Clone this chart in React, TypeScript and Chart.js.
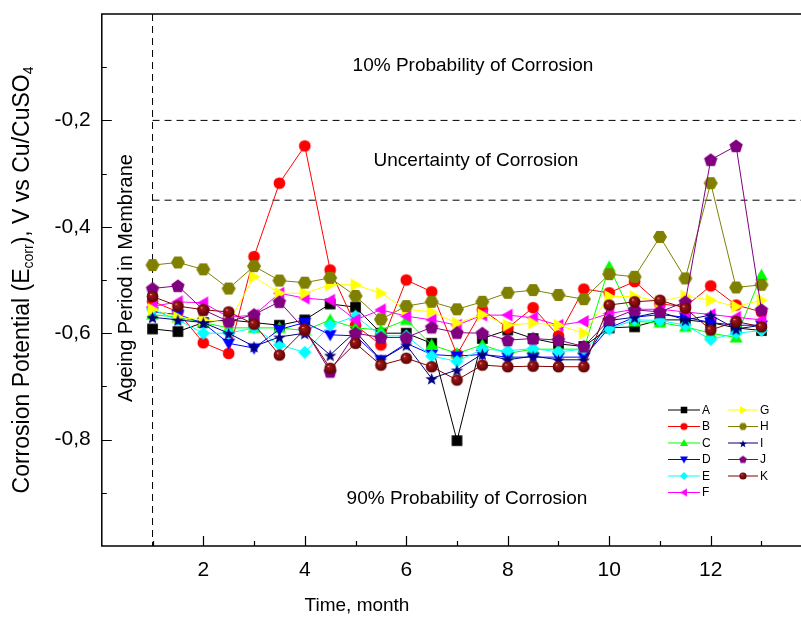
import React, { useEffect, useRef } from 'react';
import { Chart, registerables } from 'chart.js';
Chart.register(...registerables);

const months = [1, 1.5, 2, 2.5, 3, 3.5, 4, 4.5, 5, 5.5, 6, 6.5, 7, 7.5, 8, 8.5, 9, 9.5, 10, 10.5, 11, 11.5, 12, 12.5, 13];

const seriesA = [-0.592, -0.597, -0.58, -0.575, -0.58, -0.585, -0.575, -0.545, -0.551, -0.6, -0.6, -0.619, -0.802, -0.61, -0.594, -0.61, -0.62, -0.625, -0.59, -0.588, -0.575, -0.575, -0.58, -0.59, -0.595];
const seriesB = [-0.54, -0.56, -0.618, -0.638, -0.456, -0.318, -0.248, -0.481, -0.585, -0.622, -0.5, -0.522, -0.64, -0.556, -0.59, -0.552, -0.605, -0.517, -0.524, -0.503, -0.545, -0.55, -0.511, -0.547, -0.56];
const seriesC = [-0.565, -0.57, -0.58, -0.59, -0.59, -0.59, -0.595, -0.575, -0.59, -0.594, -0.575, -0.622, -0.638, -0.622, -0.638, -0.63, -0.63, -0.63, -0.475, -0.578, -0.58, -0.588, -0.6, -0.608, -0.491];
const seriesD = [-0.56, -0.565, -0.581, -0.619, -0.628, -0.593, -0.58, -0.603, -0.605, -0.65, -0.619, -0.64, -0.643, -0.64, -0.645, -0.645, -0.645, -0.645, -0.59, -0.57, -0.565, -0.57, -0.58, -0.585, -0.585];
const seriesE = [-0.556, -0.575, -0.6, -0.6, -0.59, -0.622, -0.636, -0.585, -0.568, -0.605, -0.605, -0.643, -0.653, -0.63, -0.633, -0.629, -0.635, -0.63, -0.592, -0.575, -0.576, -0.585, -0.612, -0.6, -0.595];
const seriesF = [-0.55, -0.541, -0.543, -0.57, -0.566, -0.525, -0.534, -0.538, -0.575, -0.556, -0.568, -0.575, -0.585, -0.566, -0.566, -0.571, -0.585, -0.578, -0.563, -0.555, -0.555, -0.56, -0.565, -0.57, -0.575];
const seriesG = [-0.555, -0.57, -0.575, -0.58, -0.494, -0.525, -0.525, -0.509, -0.509, -0.525, -0.555, -0.56, -0.581, -0.565, -0.585, -0.581, -0.585, -0.6, -0.531, -0.531, -0.54, -0.53, -0.538, -0.55, -0.538];
const seriesH = [-0.472, -0.467, -0.48, -0.516, -0.474, -0.501, -0.505, -0.496, -0.53, -0.574, -0.549, -0.541, -0.555, -0.541, -0.524, -0.519, -0.528, -0.536, -0.489, -0.494, -0.419, -0.497, -0.318, -0.514, -0.509];
const seriesI = [-0.57, -0.575, -0.58, -0.6, -0.625, -0.607, -0.6, -0.641, -0.597, -0.65, -0.622, -0.685, -0.669, -0.639, -0.65, -0.643, -0.65, -0.65, -0.576, -0.57, -0.56, -0.575, -0.566, -0.592, -0.585];
const seriesJ = [-0.516, -0.511, -0.556, -0.578, -0.565, -0.541, -0.593, -0.672, -0.6, -0.608, -0.608, -0.589, -0.599, -0.6, -0.613, -0.61, -0.613, -0.625, -0.575, -0.556, -0.56, -0.541, -0.274, -0.248, -0.556];
const seriesK = [-0.531, -0.549, -0.556, -0.56, -0.583, -0.641, -0.593, -0.666, -0.619, -0.66, -0.647, -0.663, -0.688, -0.66, -0.663, -0.662, -0.663, -0.663, -0.547, -0.541, -0.538, -0.553, -0.594, -0.578, -0.588];

const seriesNames = ['A', 'B', 'C', 'D', 'E', 'F', 'G', 'H', 'I', 'J', 'K'];
const seriesValues = [seriesA, seriesB, seriesC, seriesD, seriesE, seriesF, seriesG, seriesH, seriesI, seriesJ, seriesK];
const seriesColors = ['#000000', '#ff0000', '#00ff00', '#0000ff', '#00ffff', '#ff00ff', '#ffff00', '#808000', '#000080', '#800080', '#800000'];
const seriesShapes = ['square', 'circle', 'up', 'down', 'diamond', 'left', 'right', 'hexagon', 'star', 'pentagon', 'sphere'];

const xTickValues = [2, 4, 6, 8, 10, 12];
const yTickValues = [-0.2, -0.4, -0.6, -0.8];
const zoneLines = [-0.2, -0.35];
const ageingMonth = 1;

const FONT = 'Arial, "Liberation Sans", sans-serif';

function polygon(ctx: CanvasRenderingContext2D, cx: number, cy: number, r: number, n: number, start: number) {
  for (let i = 0; i < n; i++) {
    const a = start + (i * 2 * Math.PI) / n;
    const x = cx + r * Math.cos(a);
    const y = cy + r * Math.sin(a);
    if (i === 0) ctx.moveTo(x, y);
    else ctx.lineTo(x, y);
  }
  ctx.closePath();
}

function makeMarker(shape: string, color: string, size: number): HTMLCanvasElement {
  const s = Math.ceil(size) + 2;
  const c = document.createElement('canvas');
  c.width = s;
  c.height = s;
  const ctx = c.getContext('2d') as CanvasRenderingContext2D;
  const cx = s / 2;
  const cy = s / 2;
  const r = size / 2;
  ctx.fillStyle = color;
  ctx.beginPath();
  switch (shape) {
    case 'square':
      ctx.rect(cx - r * 0.82, cy - r * 0.82, r * 1.64, r * 1.64);
      break;
    case 'circle':
      ctx.arc(cx, cy, r * 0.9, 0, Math.PI * 2);
      break;
    case 'up':
      ctx.moveTo(cx, cy - r);
      ctx.lineTo(cx + r, cy + r * 0.75);
      ctx.lineTo(cx - r, cy + r * 0.75);
      ctx.closePath();
      break;
    case 'down':
      ctx.moveTo(cx, cy + r);
      ctx.lineTo(cx + r, cy - r * 0.75);
      ctx.lineTo(cx - r, cy - r * 0.75);
      ctx.closePath();
      break;
    case 'left':
      ctx.moveTo(cx - r, cy);
      ctx.lineTo(cx + r * 0.75, cy - r);
      ctx.lineTo(cx + r * 0.75, cy + r);
      ctx.closePath();
      break;
    case 'right':
      ctx.moveTo(cx + r, cy);
      ctx.lineTo(cx - r * 0.75, cy - r);
      ctx.lineTo(cx - r * 0.75, cy + r);
      ctx.closePath();
      break;
    case 'diamond':
      ctx.moveTo(cx, cy - r);
      ctx.lineTo(cx + r, cy);
      ctx.lineTo(cx, cy + r);
      ctx.lineTo(cx - r, cy);
      ctx.closePath();
      break;
    case 'hexagon':
      polygon(ctx, cx, cy, r, 6, 0);
      break;
    case 'pentagon':
      polygon(ctx, cx, cy + r * 0.08, r, 5, -Math.PI / 2);
      break;
    case 'star': {
      for (let i = 0; i < 10; i++) {
        const a = -Math.PI / 2 + (i * Math.PI) / 5;
        const rr = i % 2 === 0 ? r : r * 0.42;
        const x = cx + rr * Math.cos(a);
        const y = cy + 1 + rr * Math.sin(a);
        if (i === 0) ctx.moveTo(x, y);
        else ctx.lineTo(x, y);
      }
      ctx.closePath();
      break;
    }
    case 'sphere': {
      const g = ctx.createRadialGradient(cx - r * 0.3, cy - r * 0.35, 0, cx, cy, r);
      g.addColorStop(0, '#ffd8d8');
      g.addColorStop(0.18, '#a01818');
      g.addColorStop(1, '#560000');
      ctx.fillStyle = g;
      ctx.arc(cx, cy, r * 0.9, 0, Math.PI * 2);
      break;
    }
  }
  ctx.fill();
  return c;
}

function dashedLine(ctx: CanvasRenderingContext2D, x1: number, y1: number, x2: number, y2: number) {
  ctx.save();
  ctx.strokeStyle = '#000';
  ctx.lineWidth = 1;
  ctx.setLineDash([7, 5]);
  ctx.beginPath();
  ctx.moveTo(x1, y1);
  ctx.lineTo(x2, y2);
  ctx.stroke();
  ctx.restore();
}

const decorPlugin = {
  id: 'decor',
  beforeDatasetsDraw(chart: any) {
    const ctx: CanvasRenderingContext2D = chart.ctx;
    const xs = chart.scales.x;
    const ys = chart.scales.y;
    const area = chart.chartArea;
    const xAge = xs.getPixelForValue(ageingMonth);
    dashedLine(ctx, xAge, area.top, xAge, area.bottom);
    zoneLines.forEach((v) => {
      const y = ys.getPixelForValue(v);
      dashedLine(ctx, xAge, y, area.right, y);
    });
    ctx.save();
    ctx.fillStyle = '#000';
    ctx.font = `19px ${FONT}`;
    ctx.textAlign = 'center';
    ctx.textBaseline = 'middle';
    ctx.fillText('10% Probability of Corrosion', 473, 66);
    ctx.fillText('Uncertainty of Corrosion', 476, 161);
    ctx.fillText('90% Probability of Corrosion', 467, 499);
    ctx.translate(126, 278);
    ctx.rotate(-Math.PI / 2);
    ctx.font = `20px ${FONT}`;
    ctx.fillText('Ageing Period in Membrane', 0, 0);
    ctx.restore();
  },
  afterDraw(chart: any) {
    const ctx: CanvasRenderingContext2D = chart.ctx;
    const xs = chart.scales.x;
    const ys = chart.scales.y;
    const area = chart.chartArea;
    ctx.save();
    ctx.strokeStyle = '#000';
    ctx.lineWidth = 1.5;
    ctx.strokeRect(area.left, area.top, area.right - area.left, area.bottom - area.top);
    ctx.lineWidth = 1.2;
    ctx.beginPath();
    for (let m = 1; m <= 13; m++) {
      const x = Math.round(xs.getPixelForValue(m)) + 0.5;
      const len = m % 2 === 0 ? 10 : 5;
      ctx.moveTo(x, area.bottom);
      ctx.lineTo(x, area.bottom - len);
    }
    for (let k = 1; k <= 9; k++) {
      const v = -k / 10;
      const y = Math.round(ys.getPixelForValue(v)) + 0.5;
      const len = k % 2 === 0 ? 10 : 5;
      ctx.moveTo(area.left, y);
      ctx.lineTo(area.left + len, y);
    }
    ctx.stroke();

    // axis titles
    ctx.fillStyle = '#000';
    ctx.textBaseline = 'middle';
    ctx.textAlign = 'center';
    ctx.font = `19px ${FONT}`;
    ctx.fillText('Time, month', 357, 606);

    const parts: [string, boolean][] = [
      ['Corrosion Potential (E', false],
      ['corr', true],
      ['), V vs Cu/CuSO', false],
      ['4', true],
    ];
    const mainFont = `23px ${FONT}`;
    const subFont = `14px ${FONT}`;
    let total = 0;
    parts.forEach(([t, sub]) => {
      ctx.font = sub ? subFont : mainFont;
      total += ctx.measureText(t).width;
    });
    ctx.translate(21, 280);
    ctx.rotate(-Math.PI / 2);
    ctx.textAlign = 'left';
    ctx.textBaseline = 'alphabetic';
    let cx = -total / 2;
    parts.forEach(([t, sub]) => {
      ctx.font = sub ? subFont : mainFont;
      ctx.fillText(t, cx, sub ? 12 : 7.5);
      cx += ctx.measureText(t).width;
    });
    ctx.restore();

    // legend
    ctx.save();
    ctx.font = `12px ${FONT}`;
    ctx.textBaseline = 'middle';
    ctx.textAlign = 'left';
    const rowY = [410, 426.5, 443, 459.5, 476, 492.5];
    chart.data.datasets.forEach((ds: any, i: number) => {
      const col = i < 6 ? 0 : 1;
      const row = i < 6 ? i : i - 6;
      const x0 = col === 0 ? 668 : 728;
      const x1 = col === 0 ? 700 : 758;
      const y = rowY[row];
      ctx.strokeStyle = ds.borderColor;
      ctx.lineWidth = 1;
      ctx.beginPath();
      ctx.moveTo(x0, y);
      ctx.lineTo(x1, y);
      ctx.stroke();
      const img = ds.legendMarker as HTMLCanvasElement;
      ctx.drawImage(img, (x0 + x1) / 2 - img.width / 2, y - img.height / 2);
      ctx.fillStyle = '#000';
      ctx.fillText(ds.label, x1 + 2, y + 0.5);
    });
    ctx.restore();
  },
};

export default function App() {
  const ref = useRef<HTMLCanvasElement | null>(null);
  useEffect(() => {
    if (!ref.current) return;
    const datasets = seriesNames.map((name, i) => ({
      label: name,
      data: months.map((m, j) => ({ x: m, y: seriesValues[i][j] })),
      borderColor: seriesColors[i],
      backgroundColor: seriesColors[i],
      borderWidth: 1,
      pointStyle: makeMarker(seriesShapes[i], seriesColors[i], seriesShapes[i] === 'hexagon' || seriesShapes[i] === 'pentagon' ? 14 : 13),
      legendMarker: makeMarker(seriesShapes[i], seriesColors[i], 8),
      pointRadius: 6,
      tension: 0,
      order: 20 - i,
    }));
    const chart = new Chart(ref.current, {
      type: 'line',
      data: { datasets: datasets as any },
      options: {
        responsive: false,
        animation: false,
        events: [],
        layout: { padding: { top: 14, right: 830 - 812.2, left: 0, bottom: 0 } },
        plugins: { legend: { display: false }, tooltip: { enabled: false } },
        scales: {
          x: {
            type: 'linear',
            min: 0,
            max: 14,
            afterFit: (s: any) => {
              s.height = 74;
              s.paddingLeft = 0;
              s.paddingRight = 0;
            },
            afterBuildTicks: (s: any) => {
              s.ticks = xTickValues.map((v) => ({ value: v }));
            },
            ticks: {
              color: '#000',
              font: { family: FONT, size: 21 },
              padding: 12,
              maxRotation: 0,
              autoSkip: false,
              callback: (v: any) => String(v),
            },
            grid: { display: false, drawTicks: false },
            border: { display: false },
          },
          y: {
            min: -1,
            max: 0,
            afterFit: (s: any) => {
              s.width = 101.8;
              s.paddingTop = 0;
              s.paddingBottom = 0;
            },
            afterBuildTicks: (s: any) => {
              s.ticks = yTickValues.map((v) => ({ value: v }));
            },
            ticks: {
              color: '#000',
              font: { family: FONT, size: 21 },
              padding: 11,
              callback: (v: any) => Number(v).toFixed(1).replace('.', ','),
            },
            grid: { display: false, drawTicks: false },
            border: { display: false },
          },
        },
      },
      plugins: [decorPlugin],
    });
    return () => chart.destroy();
  }, []);
  return (
    <div style={{ position: 'fixed', left: 0, top: 0, width: 801, height: 620, overflow: 'hidden', background: '#fff' }}>
      <canvas ref={ref} width={830} height={620} style={{ display: 'block' }} />
    </div>
  );
}
